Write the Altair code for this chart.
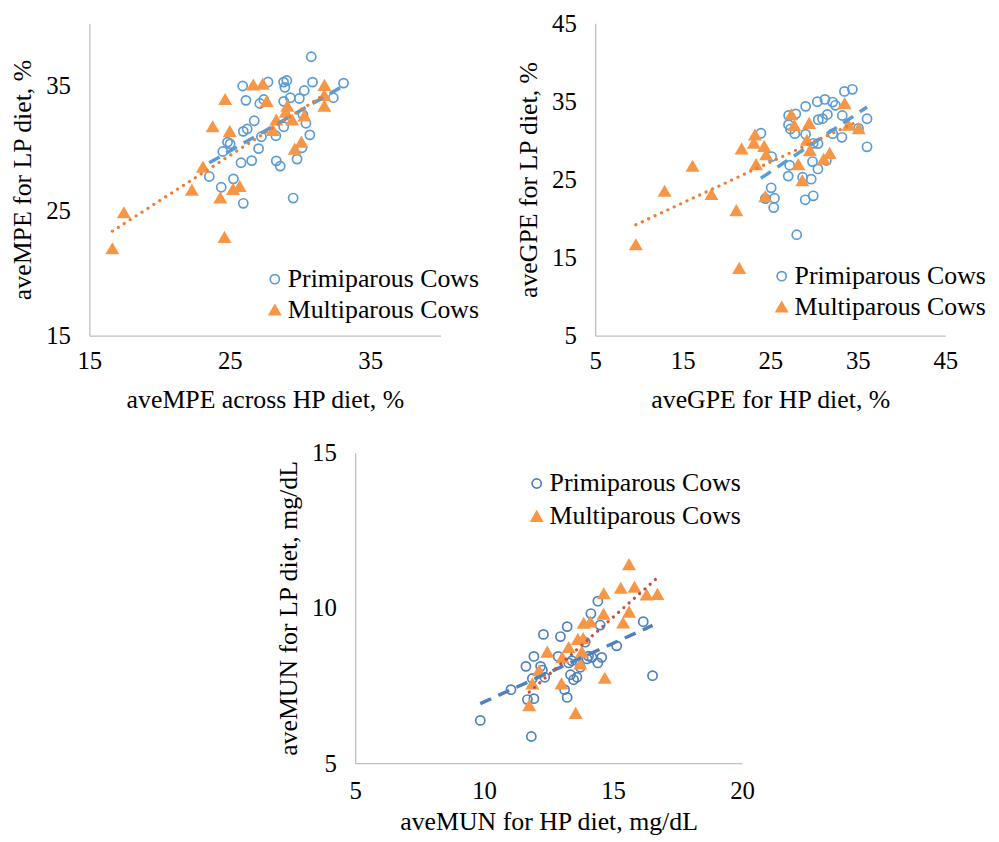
import altair as alt
import pandas as pd

TYPES = ["Primiparous Cows", "Multiparous Cows"]

# ---------------- Panel 1: aveMPE ----------------
p1_pri_x = [30.8, 25.92, 27.72, 28.83, 29.06, 28.92, 30.89, 33.1, 26.15, 27.14, 27.42, 28.84, 29.31, 29.95,
            30.3, 32.37, 26.74, 25.96, 26.24, 30.21, 30.42, 28.84, 27.25, 28.28, 30.7, 24.84, 25.02, 24.5,
            27.05, 30.14, 25.8, 26.56, 28.31, 28.59, 29.79, 23.54, 25.26, 24.39, 25.96, 29.51]
p1_pri_y = [37.32, 34.98, 35.3, 35.29, 35.42, 34.87, 35.29, 35.21, 33.83, 33.58, 33.9, 33.75, 34.04, 33.98,
            34.62, 34.04, 32.2, 31.35, 31.54, 32.67, 32.0, 31.72, 30.92, 31.0, 31.07, 30.49, 30.35, 29.74,
            29.97, 30.04, 28.84, 29.01, 28.99, 28.57, 29.13, 27.74, 27.55, 26.88, 25.59, 26.01]
p1_mul_x = [26.67, 27.35, 31.74, 24.67, 27.63, 31.73, 31.73, 29.1, 28.99, 28.31, 29.44, 30.31, 28.07,
            23.78, 25.0, 30.1, 29.62, 23.09, 22.3, 24.32, 25.23, 25.7, 17.46, 16.64, 24.62]
p1_mul_y = [35.07, 35.14, 35.04, 33.91, 33.75, 34.24, 33.38, 33.38, 32.9, 32.27, 32.27, 32.6, 31.44,
            31.73, 31.35, 30.5, 29.93, 28.5, 26.65, 26.03, 26.72, 26.95, 24.84, 21.96, 22.87]

# ---------------- Panel 2: aveGPE ----------------
p2_pri_x = [33.47, 34.38, 29.04, 30.37, 31.24, 32.12, 32.44, 27.1, 27.91, 31.52, 33.22, 30.48, 30.96, 36.05,
            27.08, 27.3, 27.8, 29.03, 32.13, 33.18, 35.07, 23.93, 29.9, 30.45, 36.05, 25.15, 27.21, 29.82,
            30.44, 31.4, 27.05, 28.69, 29.67, 25.1, 24.44, 25.48, 25.39, 28.99, 29.91, 28.02]
p2_pri_y = [36.27, 36.54, 34.36, 34.95, 35.25, 34.91, 34.49, 33.2, 33.4, 33.33, 33.19, 32.66, 32.79, 32.77,
            32.02, 31.46, 30.87, 30.8, 30.87, 30.4, 31.54, 30.92, 29.63, 29.6, 29.18, 27.93, 26.82, 27.29,
            26.35, 27.43, 25.43, 25.29, 25.04, 23.93, 22.55, 22.6, 21.4, 22.4, 22.91, 17.93]
p2_mul_x = [33.5, 27.4, 27.74, 29.44, 33.93, 35.1, 23.25, 23.12, 24.3, 21.72, 29.19, 29.53, 24.52, 31.78,
            31.1, 28.2, 23.38, 16.12, 28.65, 12.92, 18.28, 24.43, 21.12, 9.64, 21.45]
p2_mul_y = [34.72, 33.29, 31.92, 32.2, 31.96, 31.52, 30.7, 29.67, 29.24, 28.92, 30.03, 28.71, 28.18, 28.35,
            27.6, 26.91, 26.91, 26.7, 24.85, 23.5, 23.08, 22.8, 21.02, 16.66, 13.63]

# ---------------- Panel 3: aveMUN ----------------
p3_pri_x = [9.85, 11.83, 11.04, 11.68, 11.93, 11.62, 11.87, 11.93, 12.19, 12.26, 12.35, 12.3, 12.96, 13.22,
            12.87, 13.12, 13.22, 13.28, 13.35, 13.47, 13.6, 13.73, 13.99, 14.18, 14.41, 14.56, 13.92, 14.14,
            14.5, 14.41, 16.17, 15.14, 16.53, 13.4, 14.05]
p3_pri_y = [6.38, 5.86, 7.37, 7.05, 7.08, 8.12, 7.73, 8.44, 8.12, 8.0, 7.77, 9.15, 9.08, 9.4,
            8.44, 7.37, 7.12, 8.23, 7.85, 7.69, 7.77, 8.09, 8.36, 8.41, 8.23, 8.41, 8.9, 9.82,
            9.45, 10.22, 9.56, 8.78, 7.82, 8.3, 8.45]
p3_mul_x = [15.62, 15.3, 15.83, 16.3, 16.72, 14.64, 14.63, 15.62, 15.39, 13.86, 14.12, 13.63, 13.84, 13.28,
            13.03, 12.45, 13.79, 13.73, 12.13, 11.87, 13.0, 14.68, 11.75, 13.55]
p3_mul_y = [11.4, 10.64, 10.67, 10.42, 10.44, 10.46, 9.8, 9.87, 9.52, 9.51, 9.55, 8.99, 9.02, 8.73,
            8.4, 8.58, 8.58, 8.2, 7.98, 7.56, 7.56, 7.74, 6.86, 6.61]

FONT = "Liberation Serif"


def make_df(px, py, mx, my):
    return pd.DataFrame({
        "x": px + mx,
        "y": py + my,
        "type": [TYPES[0]] * len(px) + [TYPES[1]] * len(mx),
    })


def panel(df, xdom, xticks, ydom, yticks, xtitle, ytitle, w, h,
          pri_col, mul_col, dash_col, dot_col, lx, ly, xlp, xtp, rowpad):
    xs = alt.Scale(domain=xdom, nice=False, zero=False)
    ys = alt.Scale(domain=ydom, nice=False, zero=False)
    xax = alt.Axis(values=xticks, title=xtitle, labelFlush=False, labelPadding=xlp, titlePadding=xtp)
    yax = alt.Axis(values=yticks, title=ytitle, labelPadding=19, titlePadding=10)
    X = alt.X("x:Q", scale=xs, axis=xax)
    Y = alt.Y("y:Q", scale=ys, axis=yax)
    leg = alt.Legend(title=None, orient="none", legendX=lx, legendY=ly, rowPadding=rowpad)
    pts = alt.Chart(df).mark_point(strokeWidth=1.7, opacity=1).encode(
        x=X, y=Y,
        shape=alt.Shape("type:N", scale=alt.Scale(domain=TYPES, range=["circle", "triangle-up"]), legend=leg),
        stroke=alt.Stroke("type:N", scale=alt.Scale(domain=TYPES, range=[pri_col, mul_col]), legend=leg),
        fill=alt.Fill("type:N", scale=alt.Scale(domain=TYPES, range=["transparent", mul_col]), legend=leg),
        size=alt.Size("type:N", scale=alt.Scale(domain=TYPES, range=[85, 125]), legend=leg),
    )
    dash = alt.Chart(df).transform_filter(alt.datum.type == TYPES[0]).transform_regression(
        "x", "y").mark_line(color=dash_col, strokeWidth=3.5, strokeDash=[12, 8]).encode(x=X, y=Y)
    dot = alt.Chart(df).transform_filter(alt.datum.type == TYPES[1]).transform_regression(
        "x", "y").mark_line(color=dot_col, strokeWidth=3.2, strokeDash=[0.1, 7], strokeCap="round").encode(x=X, y=Y)
    return alt.layer(pts, dash, dot).properties(width=w, height=h)


df1 = make_df(p1_pri_x, p1_pri_y, p1_mul_x, p1_mul_y)
df2 = make_df(p2_pri_x, p2_pri_y, p2_mul_x, p2_mul_y)
df3 = make_df(p3_pri_x, p3_pri_y, p3_mul_x, p3_mul_y)

c1 = panel(df1, [15, 40], [15, 25, 35], [15, 40], [15, 25, 35],
           "aveMPE across HP diet, %", "aveMPE for LP diet, %", 354, 315,
           "#5B9BD5", "#F79646", "#5B9BD5", "#ED7D31", 174, 245, 13, 13, 5)
c2 = panel(df2, [5, 45], [5, 15, 25, 35, 45], [5, 45], [5, 15, 25, 35, 45],
           "aveGPE for HP diet, %", "aveGPE for LP diet, %", 353, 315,
           "#5B9BD5", "#F79646", "#5B9BD5", "#ED7D31", 175, 242, 13, 13, 5)
c3 = panel(df3, [5, 20], [5, 10, 15, 20], [5, 15], [5, 10, 15],
           "aveMUN for HP diet, mg/dL", "aveMUN for LP diet, mg/dL", 390, 313,
           "#4F81BD", "#F79646", "#4F81BD", "#C0504D", 170, 18, 16, 5, 7)

spacer = alt.Chart(pd.DataFrame({"x": [0]})).mark_point(opacity=0).encode(
    x=alt.X("x:Q", axis=None), y=alt.Y("x:Q", axis=None)).properties(width=268, height=10)

IND = dict(shape="independent", stroke="independent", fill="independent", size="independent")

top = alt.hconcat(c1, c2, spacing=156, bounds="flush").resolve_scale(**IND)
bottom = alt.hconcat(spacer, c3, spacing=0, bounds="flush").resolve_scale(**IND)

chart = alt.vconcat(top, bottom, spacing=29).resolve_scale(**IND).properties(
    padding={"left": 2, "top": 0, "right": 5, "bottom": 0},
    background="white",
).configure_view(stroke=None).configure_axis(
    domainColor="#BFBFBF", domainWidth=1.3, ticks=False, grid=False,
    labelFont=FONT, labelFontSize=25, labelColor="#000000",
    titleFont=FONT, titleFontSize=26, titleFontWeight="normal", titleColor="#000000",
).configure_legend(
    labelFont=FONT, labelFontSize=26, labelColor="#000000", labelLimit=500, padding=0,
    symbolStrokeWidth=1.7, labelOffset=0,
)

chart.save("out.html", embed_options={"renderer": "svg", "actions": False})
